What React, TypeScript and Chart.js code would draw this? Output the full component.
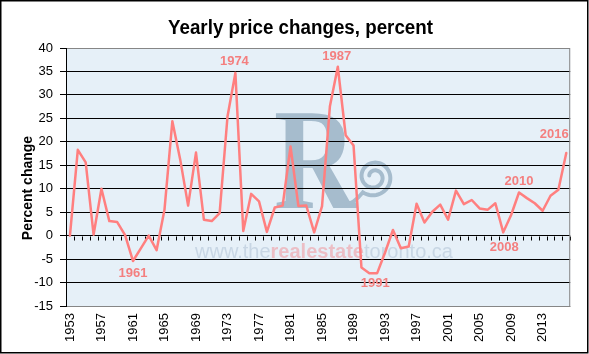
import React, { useEffect, useRef } from "react";
import { Chart, registerables } from "chart.js";

Chart.register(...registerables);

const years: string[] = [
  "1953", "1954", "1955", "1956", "1957", "1958", "1959", "1960", "1961", "1962",
  "1963", "1964", "1965", "1966", "1967", "1968", "1969", "1970", "1971", "1972",
  "1973", "1974", "1975", "1976", "1977", "1978", "1979", "1980", "1981", "1982",
  "1983", "1984", "1985", "1986", "1987", "1988", "1989", "1990", "1991", "1992",
  "1993", "1994", "1995", "1996", "1997", "1998", "1999", "2000", "2001", "2002",
  "2003", "2004", "2005", "2006", "2007", "2008", "2009", "2010", "2011", "2012",
  "2013", "2014", "2015", "2016",
];

const priceChange: number[] = [
  0.0, 18.3, 15.6, 0.2, 10.0, 3.1, 2.9, 0.1, -5.4, -2.7,
  0.0, -3.1, 5.5, 24.4, 16.2, 6.4, 17.7, 3.4, 3.1, 4.8,
  25.4, 34.7, 1.0, 8.9, 7.3, 0.8, 6.0, 6.4, 19.0, 6.3,
  6.4, 0.7, 6.3, 27.6, 36.0, 21.4, 19.2, -6.8, -8.0, -8.0,
  -3.6, 1.2, -2.7, -2.3, 6.8, 2.8, 5.1, 6.6, 3.4, 9.6,
  6.7, 7.6, 5.8, 5.5, 6.9, 0.7, 4.4, 9.2, 8.0, 6.9,
  5.3, 8.5, 9.8, 17.6,
];

const yTicks: number[] = [-15, -10, -5, 0, 5, 10, 15, 20, 25, 30, 35, 40];

const highlightedYears: string[] = ["1961", "1974", "1987", "1991", "2008", "2010", "2016"];

const titleText = "Yearly price changes, percent";
const yTitleText = "Percent change";

// label offsets (pixels) relative to the data point
const labelOffsets: Record<string, [number, number]> = {
  "1961": [0, 12],
  "1974": [-1, -11],
  "1987": [-1, -10],
  "1991": [6, 10],
  "2008": [1, 15],
  "2010": [0, -11],
  "2016": [-12, -19],
};

const LINE = "#FF7F7F";
const LABEL = "#F47F7F";
const PLOT_BG = "#E6F0F8";
const LOGO = "#A6BCCD";

const decorPlugin = {
  id: "decor",
  beforeDraw(chart: any) {
    const { ctx, chartArea: a } = chart;
    ctx.save();
    ctx.fillStyle = "#ffffff";
    ctx.fillRect(0, 0, chart.width, chart.height);
    ctx.fillStyle = PLOT_BG;
    ctx.fillRect(a.left, a.top, a.right - a.left, a.bottom - a.top);

    // logo "R"
    ctx.save();
    ctx.beginPath();
    ctx.rect(a.left, a.top, a.right - a.left, a.bottom - a.top);
    ctx.clip();
    ctx.translate(274, 208);
    ctx.scale(0.8, 1);
    ctx.fillStyle = LOGO;
    ctx.font = 'bold 143px "Liberation Serif"';
    ctx.textBaseline = "alphabetic";
    ctx.textAlign = "left";
    ctx.fillText("R", 0, 0);
    ctx.restore();

    // spiral
    ctx.save();
    ctx.strokeStyle = LOGO;
    ctx.lineWidth = 4;
    ctx.lineCap = "round";
    ctx.beginPath();
    const cx = 374, cy = 177;
    ctx.moveTo(342, 204);
    const steps = 120;
    for (let i = 0; i <= steps; i++) {
      const t = i / steps;
      const ang = Math.PI * 0.7 - t * Math.PI * 3.6;
      const r = 19 - t * 14;
      const px = cx + r * Math.cos(ang);
      const py = cy + r * Math.sin(ang);
      if (i === 0) ctx.quadraticCurveTo(352, 206, px, py);
      else ctx.lineTo(px, py);
    }
    ctx.stroke();
    ctx.restore();

    // watermark
    ctx.save();
    ctx.textBaseline = "alphabetic";
    ctx.textAlign = "left";
    let x = 195;
    const y = 258;
    ctx.font = '20px "Liberation Sans"';
    ctx.fillStyle = "rgba(190,205,222,0.75)";
    ctx.fillText("www.the", x, y);
    x += ctx.measureText("www.the").width;
    ctx.font = 'bold 20px "Liberation Sans"';
    ctx.fillStyle = "rgba(240,150,155,0.55)";
    ctx.fillText("realestate", x, y);
    x += ctx.measureText("realestate").width;
    ctx.font = '20px "Liberation Sans"';
    ctx.fillStyle = "rgba(190,205,222,0.75)";
    ctx.fillText("toronto.ca", x, y);
    ctx.restore();

    ctx.restore();
  },
  beforeDatasetsDraw(chart: any) {
    const { ctx, chartArea: a } = chart;
    const xs = chart.scales.x;
    const ys = chart.scales.y;
    const y0 = Math.round(ys.getPixelForValue(0)) + 0.5;
    ctx.save();
    ctx.strokeStyle = "#000000";
    ctx.lineWidth = 1;
    ctx.beginPath();
    for (let i = 0; i <= years.length; i++) {
      let px: number;
      if (i === 0) px = a.left;
      else if (i === years.length) px = a.right;
      else px = (xs.getPixelForValue(i - 1) + xs.getPixelForValue(i)) / 2;
      px = Math.round(px) + 0.5;
      ctx.moveTo(px, y0);
      ctx.lineTo(px, y0 + 4);
    }
    ctx.stroke();
    // plot border
    ctx.strokeStyle = "#868686";
    ctx.strokeRect(a.left + 0.5, a.top + 0.5, a.right - a.left - 1, a.bottom - a.top);
    // y axis line
    ctx.strokeStyle = "#000000";
    ctx.beginPath();
    ctx.moveTo(a.left + 0.5, a.top);
    ctx.lineTo(a.left + 0.5, a.bottom + 1);
    ctx.stroke();
    ctx.restore();
  },
  afterDatasetsDraw(chart: any) {
    const { ctx } = chart;
    const xs = chart.scales.x;
    const ys = chart.scales.y;
    ctx.save();
    ctx.font = 'bold 13px "Liberation Sans"';
    ctx.fillStyle = LABEL;
    ctx.textAlign = "center";
    ctx.textBaseline = "middle";
    highlightedYears.forEach((yr) => {
      const idx = years.indexOf(yr);
      const off = labelOffsets[yr] || [0, 0];
      const px = xs.getPixelForValue(idx) + off[0];
      const py = ys.getPixelForValue(priceChange[idx]) + off[1];
      ctx.fillText(yr, px, py);
    });
    ctx.restore();
  },
  afterDraw(chart: any) {
    const { ctx } = chart;
    ctx.save();
    // title
    ctx.font = 'bold 20px "Liberation Sans"';
    ctx.fillStyle = "#000000";
    ctx.textBaseline = "alphabetic";
    ctx.textAlign = "left";
    const w = ctx.measureText(titleText).width;
    const target = 265;
    ctx.translate(168, 34);
    ctx.scale(target / w, 1);
    ctx.fillText(titleText, 0, 0);
    ctx.restore();

    ctx.save();
    ctx.font = 'bold 14px "Liberation Sans"';
    ctx.fillStyle = "#000000";
    ctx.textAlign = "center";
    ctx.textBaseline = "middle";
    ctx.translate(28, 188);
    ctx.rotate(-Math.PI / 2);
    ctx.fillText(yTitleText, 0, 0);
    ctx.restore();

    // outer border
    ctx.save();
    ctx.strokeStyle = "#000000";
    ctx.lineWidth = 1.5;
    ctx.strokeRect(0.75, 0.75, chart.width - 2, chart.height - 2);
    ctx.restore();
  },
};

export default function App() {
  const ref = useRef<HTMLCanvasElement | null>(null);
  useEffect(() => {
    if (!ref.current) return;
    const chart = new Chart(ref.current, {
      type: "line",
      data: {
        labels: years,
        datasets: [
          {
            data: priceChange,
            borderColor: LINE,
            borderWidth: 2.5,
            borderJoinStyle: "round",
            borderCapStyle: "round",
            pointRadius: 0,
            tension: 0,
            fill: false,
          },
        ],
      },
      options: {
        responsive: false,
        animation: false,
        devicePixelRatio: 1,
        layout: { padding: { top: 48, right: 16, left: 0, bottom: 0 } },
        plugins: {
          legend: { display: false },
          title: { display: false },
          tooltip: { enabled: false },
        },
        scales: {
          x: {
            type: "category",
            offset: true,
            grid: { display: false, drawTicks: false },
            border: { display: false },
            ticks: {
              autoSkip: false,
              maxRotation: 90,
              minRotation: 90,
              padding: 7,
              color: "#000000",
              font: { family: '"Liberation Sans"', size: 13 },
              callback: function (this: any, value: any, index: number) {
                return index % 4 === 0 ? years[index] : "";
              },
            },
            afterFit: (s: any) => {
              s.height = 48;
            },
          },
          y: {
            min: -15,
            max: 40,
            afterBuildTicks: (s: any) => {
              s.ticks = yTicks.map((v) => ({ value: v }));
            },
            grid: {
              color: (c: any) => (c.tick && c.tick.value === 40 ? "rgba(0,0,0,0)" : "#000000"),
              lineWidth: 1,
              drawTicks: true,
              tickLength: 6,
              tickColor: "#000000",
            },
            border: { display: false },
            ticks: {
              padding: 7,
              color: "#000000",
              font: { family: '"Liberation Sans"', size: 13 },
            },
            afterFit: (s: any) => {
              s.width = 66;
            },
          },
        },
      },
      plugins: [decorPlugin],
    });
    return () => chart.destroy();
  }, []);
  return (
    <div style={{ position: "absolute", left: 0, top: 0, width: 589, height: 354 }}>
      <canvas ref={ref} width={589} height={354} style={{ display: "block" }} />
    </div>
  );
}
